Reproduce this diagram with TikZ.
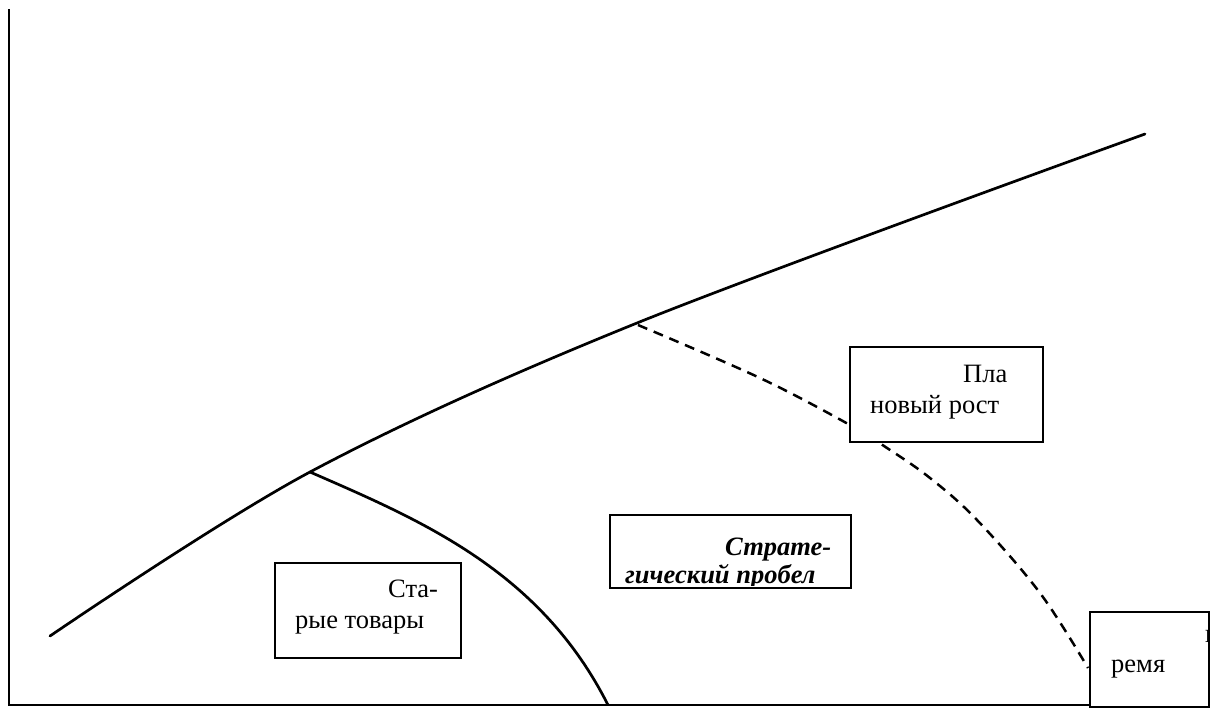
\documentclass[tikz,border=0pt]{standalone}
\usepackage{fontspec}
\setmainfont{Liberation Serif}
\begin{document}
\begin{tikzpicture}[x=1pt,y=-1pt,
  curve/.style={line width=2.7pt},
  dashcurve/.style={line width=2.5pt,dash pattern=on 10pt off 7pt},
  axis/.style={line width=2.2pt},
  box/.style={draw,fill=white,line width=1.8pt,inner sep=0pt,anchor=north west},
  lbl/.style={inner sep=0pt,anchor=base west,font=\fontsize{26.5}{31}\selectfont},
  blbl/.style={lbl,font=\fontsize{26.5}{31}\selectfont\bfseries\itshape}]
\useasboundingbox (0,0) rectangle (1217,707);
% axes
\coordinate (ytop) at (9,9);
\coordinate (org) at (9,705);
\coordinate (xend) at (1090,705);
\draw[axis] (ytop) -- (org) -- (xend);
% main growth curve
\coordinate (m0) at (50,636);
\coordinate (m1) at (310,472);
\coordinate (m2) at (637,323);
\coordinate (m3) at (1145,134);
\draw[curve,line cap=round] plot[smooth,tension=0.55] coordinates {(m0) (m1) (m2) (m3)};
% old products curve
\coordinate (o1) at (608,705);
\draw[curve] (m1) .. controls (420,520) and (540,570) .. (o1);
% dashed planned growth curve
\draw[dashcurve] plot[smooth,tension=0.6] coordinates {(638,325) (760,378) (850,425) (887,448) (930,478) (977,520) (1040,593) (1088,668)};
% boxes
\node[box,minimum width=193pt,minimum height=95pt] (plan) at (849,346) {};
\node[lbl] (plan1) at (963,382) {Пла};
\node[lbl] (plan2) at (870,413) {новый рост};

\node[box,minimum width=241pt,minimum height=73pt] (gap) at (609,514) {};
\begin{scope}
\clip (610,515) rectangle (849,585);
\node[blbl] (gap1) at (725,555) {Страте-};
\node[blbl] (gap2) at (625,583) {гический пробел};
\end{scope}

\node[box,minimum width=186pt,minimum height=95pt] (old) at (274,562) {};
\node[lbl] (old1) at (388,597) {Ста-};
\node[lbl] (old2) at (295,628) {рые товары};

\node[box,minimum width=119pt,minimum height=95pt] (time) at (1089,611) {};
\begin{scope}
\clip (1090,612) rectangle (1207.3,705);
\node[lbl] (time1) at (1205,642) {в};
\end{scope}
\node[lbl] (time2) at (1111,672) {ремя};
\end{tikzpicture}
\end{document}
